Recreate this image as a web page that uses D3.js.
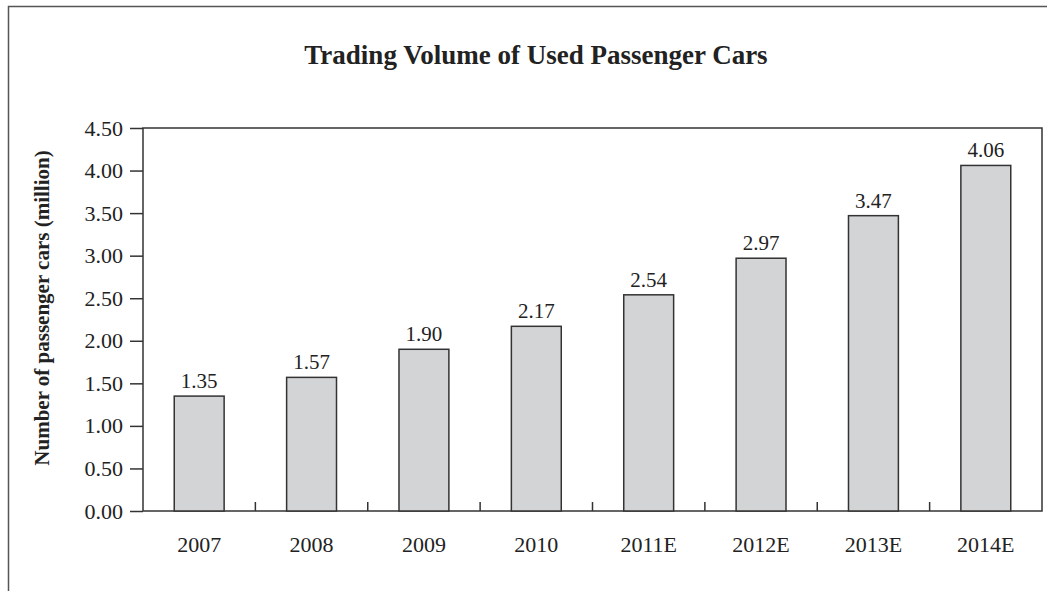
<!DOCTYPE html>
<html>
<head>
<meta charset="utf-8">
<script src="https://cdn.jsdelivr.net/npm/d3@7"></script>
<style>
  body { margin: 0; background: #fff; }
  text { font-family: "Liberation Serif", "Times New Roman", serif; fill: #222; }
</style>
</head>
<body>
<div id="chart"></div>
<script>
// chart data
var years = ["2007", "2008", "2009", "2010", "2011E", "2012E", "2013E", "2014E"];
var volumes = [1.35, 1.57, 1.90, 2.17, 2.54, 2.97, 3.47, 4.06];
var yTicks = [0, 0.5, 1, 1.5, 2, 2.5, 3, 3.5, 4, 4.5];

var width = 1052,
    height = 591;

var margin = { top: 128, right: 10, bottom: 80, left: 143 };

var svg = d3.select("#chart")
    .append("svg")
    .attr("width", width)
    .attr("height", height);

// outer frame (left and top edges)
svg.append("path")
    .attr("d", "M8.5," + height + "V6.5H1047")
    .attr("fill", "none")
    .attr("stroke", "#555")
    .attr("stroke-width", 1.5);

var plotW = 1042 - margin.left,
    plotH = 511 - margin.top;

var g = svg.append("g")
    .attr("transform", "translate(" + margin.left + "," + margin.top + ")");

var x = d3.scaleBand()
    .domain(years)
    .range([0, plotW])
    .paddingInner(0.556)
    .paddingOuter(0.278);

var xCat = d3.scaleBand().domain(years).range([0, plotW]);

var y = d3.scaleLinear()
    .domain([0, 4.5])
    .range([plotH, 0]);

// plot box
g.append("rect")
    .attr("width", plotW)
    .attr("height", plotH)
    .attr("fill", "none")
    .attr("stroke", "#333")
    .attr("stroke-width", 1.5);

// bars
g.selectAll(".bar")
    .data(volumes)
    .enter().append("rect")
    .attr("class", "bar")
    .attr("x", function(d, i) { return x(years[i]); })
    .attr("y", function(d) { return y(d); })
    .attr("width", x.bandwidth())
    .attr("height", function(d) { return plotH - y(d); })
    .attr("fill", "#d3d4d6")
    .attr("stroke", "#333")
    .attr("stroke-width", 1.5);

// value labels
g.selectAll(".val")
    .data(volumes)
    .enter().append("text")
    .attr("class", "val")
    .attr("x", function(d, i) { return x(years[i]) + x.bandwidth() / 2; })
    .attr("y", function(d) { return y(d) - 8; })
    .attr("text-anchor", "middle")
    .attr("font-size", "21px")
    .text(function(d) { return d.toFixed(2); });

// y axis
var yAxis = g.append("g")
    .call(d3.axisLeft(y).tickValues(yTicks).tickSize(13).tickPadding(7)
        .tickFormat(function(d) { return d.toFixed(2); }));
yAxis.select(".domain").remove();
yAxis.selectAll("line").attr("stroke", "#333").attr("stroke-width", 1.5);
yAxis.selectAll("text")
    .attr("font-size", "22px")
    .attr("font-family", "Liberation Serif, serif")
    .attr("fill", "#222");

// x axis: small inward ticks between categories
g.selectAll(".xtick")
    .data(years.slice(1))
    .enter().append("line")
    .attr("class", "xtick")
    .attr("x1", function(d) { return xCat(d); })
    .attr("x2", function(d) { return xCat(d); })
    .attr("y1", plotH)
    .attr("y2", plotH - 9)
    .attr("stroke", "#333")
    .attr("stroke-width", 1.5);

g.selectAll(".xlab")
    .data(years)
    .enter().append("text")
    .attr("class", "xlab")
    .attr("x", function(d) { return xCat(d) + xCat.bandwidth() / 2; })
    .attr("y", plotH + 41)
    .attr("text-anchor", "middle")
    .attr("font-size", "22px")
    .text(function(d) { return d; });

// title
svg.append("text")
    .attr("x", 536)
    .attr("y", 64)
    .attr("text-anchor", "middle")
    .attr("font-size", "27px")
    .attr("font-weight", "bold")
    .text("Trading Volume of Used Passenger Cars");

// y axis label
svg.append("text")
    .attr("transform", "translate(49,308) rotate(-90)")
    .attr("text-anchor", "middle")
    .attr("font-size", "21px")
    .attr("font-weight", "bold")
    .text("Number of passenger cars (million)");
</script>
</body>
</html>
